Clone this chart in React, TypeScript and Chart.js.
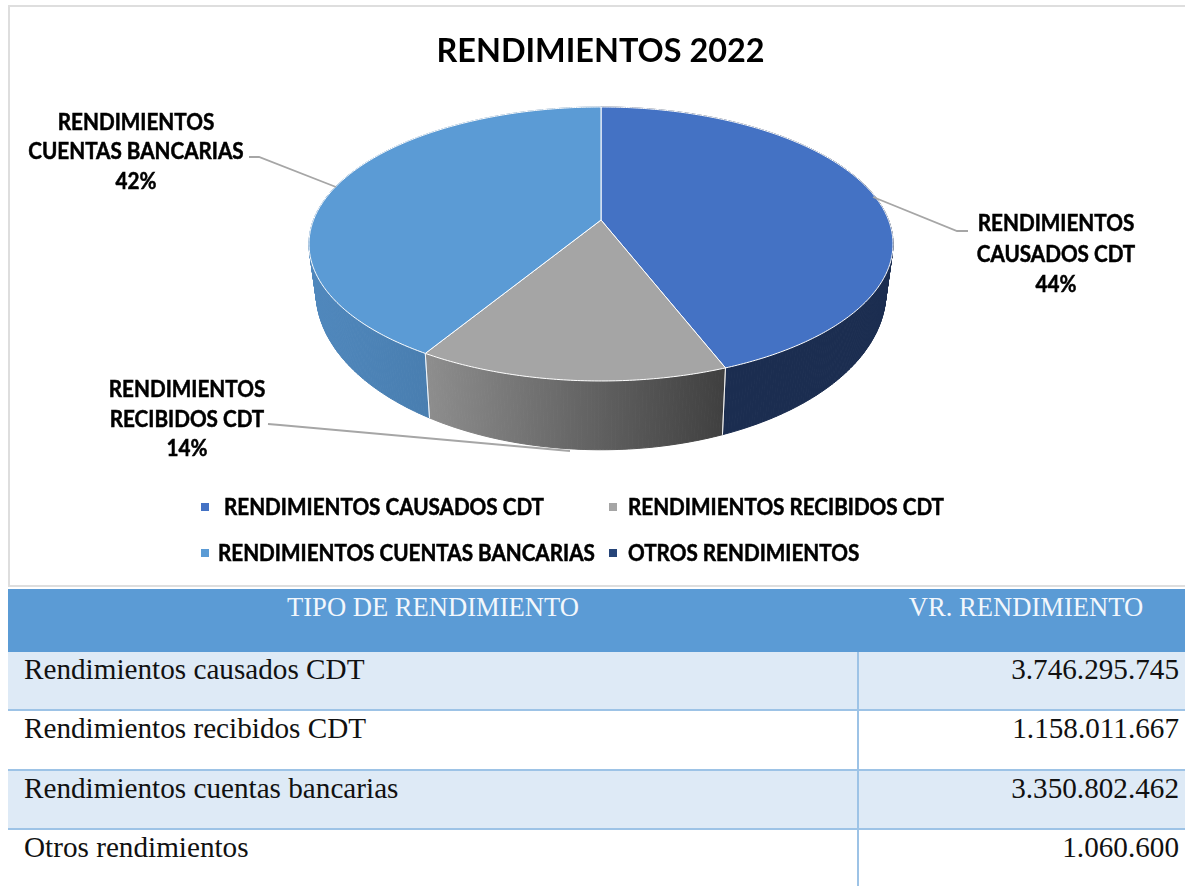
import React, { useEffect, useRef } from "react";
import { Chart, registerables } from "chart.js";

Chart.register(...registerables);

const chartTitle = "RENDIMIENTOS 2022";
const categories = [
  "RENDIMIENTOS CAUSADOS CDT",
  "RENDIMIENTOS RECIBIDOS CDT",
  "RENDIMIENTOS CUENTAS BANCARIAS",
  "OTROS RENDIMIENTOS",
];
const sharePercent = [44.1, 14.6, 41.3, 0];
const faceColors = ["#4472C4", "#A5A5A5", "#5B9BD5", "#264478"];
const wallFrom = ["#1B2D50", "#8E8E8E", "#5088BD", "#1B2D50"];
const wallTo = ["#1B2D50", "#3F3F3F", "#3E6F9D", "#1B2D50"];

const tableHead = ["TIPO DE RENDIMIENTO", "VR. RENDIMIENTO"];
const tableNames = [
  "Rendimientos causados CDT",
  "Rendimientos recibidos CDT",
  "Rendimientos cuentas bancarias",
  "Otros rendimientos",
];
const tableValues = ["3.746.295.745", "1.158.011.667", "3.350.802.462", "1.060.600"];

const LABEL_FONT = "Lato, 'Open Sans', sans-serif";
const squeeze = 0.94;

const pieLook = { cx: 601, cy: 220, a: 287.5, b: 132.8, k: 0.175, wallX: 0.976, wallY: 1.154, wallDrop: 44 };

const calloutLines = [
  { text: ["RENDIMIENTOS", "CAUSADOS CDT", "44%"], x: 1056, y: [224, 255, 285], line: [[873, 197], [957, 231], [968, 231]] },
  { text: ["RENDIMIENTOS", "RECIBIDOS CDT", "14%"], x: 187, y: [390, 420, 449], line: [[268, 424], [280, 425], [570, 451]] },
  { text: ["RENDIMIENTOS", "CUENTAS BANCARIAS", "42%"], x: 136, y: [123, 152, 182], line: [[249, 157], [259, 157], [336, 187]] },
];
const legendSlots = [
  { mark: 201, text: 224, y: 508 },
  { mark: 609, text: 628, y: 508 },
  { mark: 201, text: 218, y: 554 },
  { mark: 609, text: 628, y: 554 },
];

function top(theta: number) {
  const { cx, cy, a, b, k } = pieLook;
  const d = 1 - k * Math.sin(theta);
  return { x: cx + (a * Math.cos(theta)) / d, y: cy + (b * Math.sin(theta)) / d };
}
function bottom(theta: number) {
  const { cx, cy, wallX, wallY, wallDrop } = pieLook;
  const p = top(theta);
  return { x: cx + (p.x - cx) * wallX, y: cy + (p.y - cy) * wallY + wallDrop };
}
function angles(start: number, end: number) {
  const out: number[] = [];
  const n = Math.max(2, Math.ceil((end - start) / 0.01));
  for (let i = 0; i <= n; i++) out.push(start + ((end - start) * i) / n);
  return out;
}
function squeezedText(ctx: CanvasRenderingContext2D, s: string, x: number, y: number) {
  const w = ctx.measureText(s).width * squeeze;
  ctx.fillText(s, x, y, w);
  ctx.strokeText(s, x, y, w);
}

const pie3d = {
  id: "pie3d",
  beforeDatasetsDraw(chart: any) {
    const ctx: CanvasRenderingContext2D = chart.ctx;
    const arcs = chart.getDatasetMeta(0).data;
    ctx.save();
    ctx.translate(-8, 0);
    arcs.forEach((arc: any, i: number) => {
      if (arc.endAngle - arc.startAngle <= 0) return;
      const th = angles(arc.startAngle, arc.endAngle);
      const xs = th.map((t) => top(t).x);
      const g = ctx.createLinearGradient(Math.min(...xs), 0, Math.max(...xs), 0);
      g.addColorStop(0, wallFrom[i]);
      g.addColorStop(1, wallTo[i]);
      ctx.fillStyle = g;
      ctx.strokeStyle = g;
      ctx.lineWidth = 1;
      for (let j = 0; j < th.length - 1; j++) {
        const p1 = top(th[j]);
        const p2 = top(th[j + 1]);
        const p3 = bottom(th[j + 1]);
        const p4 = bottom(th[j]);
        ctx.beginPath();
        ctx.moveTo(p1.x, p1.y);
        ctx.lineTo(p2.x, p2.y);
        ctx.lineTo(p3.x, p3.y);
        ctx.lineTo(p4.x, p4.y);
        ctx.closePath();
        ctx.fill();
        ctx.stroke();
      }
    });
    arcs.forEach((arc: any) => {
      if (arc.endAngle - arc.startAngle <= 0) return;
      ctx.strokeStyle = "rgba(255,255,255,0.75)";
      ctx.lineWidth = 1;
      [arc.startAngle, arc.endAngle].forEach((t: number) => {
        if (Math.sin(t) < 0.3) return;
        const a = top(t);
        const b = bottom(t);
        ctx.beginPath();
        ctx.moveTo(a.x, a.y);
        ctx.lineTo(b.x, b.y);
        ctx.stroke();
      });
    });
    arcs.forEach((arc: any) => {
      if (arc.endAngle - arc.startAngle <= 0) return;
      ctx.beginPath();
      ctx.moveTo(pieLook.cx, pieLook.cy);
      angles(arc.startAngle, arc.endAngle).forEach((t) => {
        const p = top(t);
        ctx.lineTo(p.x, p.y);
      });
      ctx.closePath();
      ctx.fillStyle = arc.options.backgroundColor;
      ctx.fill();
      ctx.strokeStyle = arc.options.borderColor;
      ctx.lineWidth = arc.options.borderWidth;
      ctx.stroke();
    });
    ctx.restore();
    return false;
  },
  afterDraw(chart: any) {
    const ctx: CanvasRenderingContext2D = chart.ctx;
    ctx.save();
    ctx.translate(-8, 0);
    ctx.font = `bold 22px ${LABEL_FONT}`;
    ctx.fillStyle = "#000";
    ctx.textBaseline = "middle";
    calloutLines.forEach((c) => {
      ctx.strokeStyle = "#A6A6A6";
      ctx.lineWidth = 1.8;
      ctx.beginPath();
      c.line.forEach(([x, y], j) => (j === 0 ? ctx.moveTo(x, y) : ctx.lineTo(x, y)));
      ctx.stroke();
      ctx.textAlign = "center";
      ctx.strokeStyle = "#000";
      ctx.lineWidth = 0.5;
      c.text.forEach((s, j) => squeezedText(ctx, s, c.x, c.y[j]));
    });
    ctx.textAlign = "left";
    categories.forEach((name, i) => {
      const s = legendSlots[i];
      ctx.fillStyle = faceColors[i];
      ctx.fillRect(s.mark, s.y - 5, 8, 8);
      ctx.fillStyle = "#000";
      squeezedText(ctx, name, s.text, s.y);
    });
    ctx.restore();
  },
};

export default function App() {
  const ref = useRef<HTMLCanvasElement>(null);
  useEffect(() => {
    document.body.style.margin = "0";
    const chart = new Chart(ref.current as HTMLCanvasElement, {
      type: "pie",
      data: {
        labels: categories,
        datasets: [{ data: sharePercent, backgroundColor: faceColors, borderColor: "#FFFFFF", borderWidth: 1 }],
      },
      options: {
        animation: false,
        responsive: false,
        plugins: {
          legend: { display: false },
          tooltip: { enabled: false },
          title: {
            display: true,
            text: chartTitle,
            color: "#000",
            font: { size: 32.4, weight: "bold", family: LABEL_FONT },
            padding: { top: 32, bottom: 10 },
          },
        },
      },
      plugins: [pie3d],
    } as any);
    return () => chart.destroy();
  }, []);

  const cellText: React.CSSProperties = { fontFamily: "'Liberation Serif', serif", fontSize: 29.2, lineHeight: "34px", color: "#111" };
  const headText: React.CSSProperties = { ...cellText, fontSize: 26.6, color: "#F2F7FC" };
  const line = "2px solid #9DC3E6";
  return (
    <div style={{ position: "absolute", left: 0, top: 0, width: 1185, height: 886, overflow: "hidden", background: "#fff" }}>
      <canvas ref={ref} width={1185} height={587} style={{ position: "absolute", left: 8, top: 0 }} />
      <div style={{ position: "absolute", left: 8, top: 5, width: 1185, height: 582, boxSizing: "border-box", border: "2px solid #DEDEDE", pointerEvents: "none" }} />
      <div style={{ position: "absolute", left: 8, top: 589, width: 1177, height: 63, background: "#5B9BD5" }}>
        <div style={{ ...headText, position: "absolute", left: 0, width: 850, top: 1, textAlign: "center" }}>{tableHead[0]}</div>
        <div style={{ ...headText, position: "absolute", left: 850, width: 336, top: 1, textAlign: "center" }}>{tableHead[1]}</div>
      </div>
      {tableNames.map((name, i) => {
        const rowTop = [652, 711, 771, 830][i];
        const rowH = [57, 58, 57, 56][i];
        return (
          <div key={name} style={{ position: "absolute", left: 8, top: rowTop, width: 1177, height: rowH, background: i % 2 === 0 ? "#DEEAF6" : "#fff", borderBottom: i < 3 ? line : "none" }}>
            <div style={{ ...cellText, position: "absolute", left: 16, top: 0 }}>{name}</div>
            <div style={{ position: "absolute", left: 849, top: 0, width: 2, height: rowH + 2, background: "#9DC3E6" }} />
            <div style={{ ...cellText, position: "absolute", right: 6, top: 0 }}>{tableValues[i]}</div>
          </div>
        );
      })}
    </div>
  );
}
